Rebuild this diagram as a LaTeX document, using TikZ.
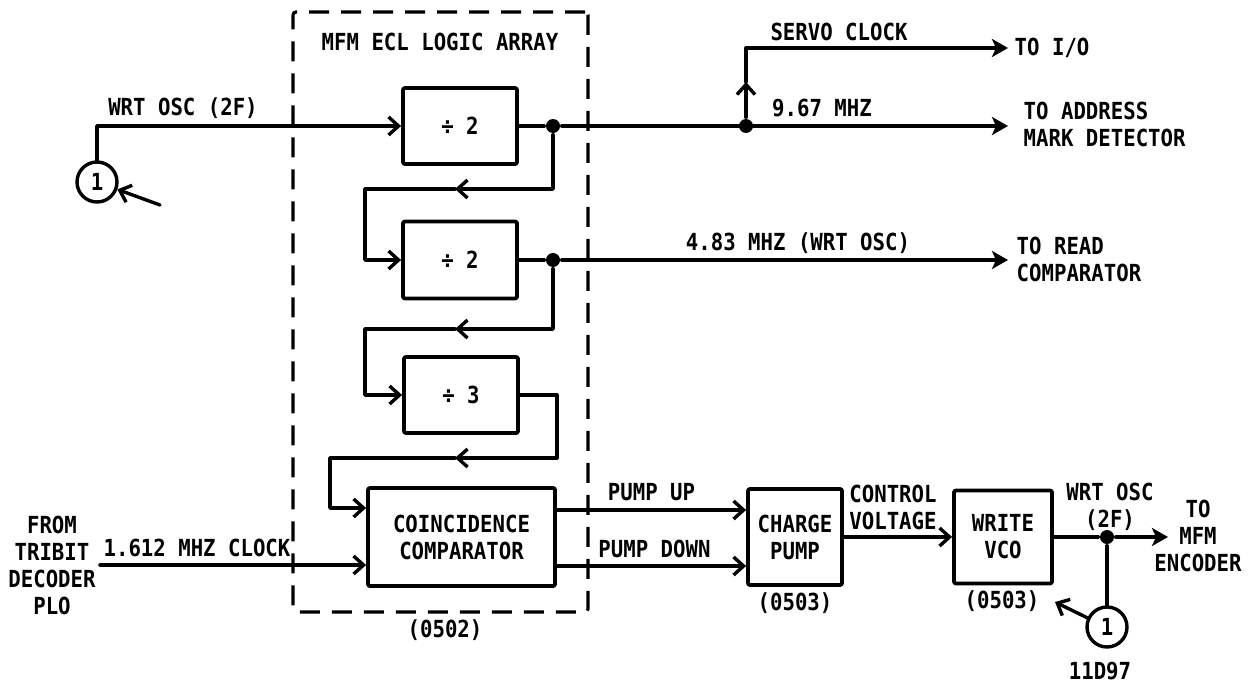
\documentclass[tikz,border=0pt]{standalone}
\usepackage{fontspec}
\setmainfont{DejaVu Sans Mono}[FakeStretch=0.88]
\usetikzlibrary{arrows.meta}

\begin{document}
\begin{tikzpicture}[x=1pt, y=-1pt, line width=3.4pt, line join=round, line cap=round,
	font=\fontsize{23.5}{27}\selectfont\bfseries, >={Straight Barb[length=10pt,width=18pt]},
	blk/.style={draw, line width=3.8pt, rounded corners=2pt, align=center, inner sep=0pt},
	dot/.style={circle, fill, inner sep=0pt, minimum size=14pt},
	ref/.style={circle, draw, inner sep=0pt, minimum size=40pt},
	outarr/.style={-{Stealth[length=16pt,width=18pt,inset=4pt]}},
	lbl/.style={inner sep=0pt, align=center}]
	\useasboundingbox (0,0) rectangle (1252,685);
	
	% logic array
	\node[draw, line cap=butt, dash pattern=on 20pt off 12pt, line width=3.2pt, rounded corners=3pt,
		minimum width=295pt, minimum height=600pt] (ecl) at (440.5,312) {};
	\node[lbl] (ecltitle) at (440,42) {MFM ECL LOGIC ARRAY};
	\node[lbl] (eclno) at (445,630) {(0502)};
	
	\node[blk, minimum width=114pt, minimum height=76pt] (div2a) at (460,126) {÷ 2};
	\node[blk, minimum width=114pt, minimum height=77pt] (div2b) at (460,260) {÷ 2};
	\node[blk, minimum width=114pt, minimum height=76pt] (div3) at (461,395) {÷ 3};
	\node[blk, minimum width=187pt, minimum height=98pt] (coinc) at (461.5,537) {COINCIDENCE\\COMPARATOR};
	\node[blk, minimum width=94pt, minimum height=96pt] (pump) at (795,537) {CHARGE\\PUMP};
	\node[blk, minimum width=98pt, minimum height=93pt] (vco) at (1003,537) {WRITE\\VCO};
	
	\node[ref] (ref1) at (97,182) {1};
	\node[ref] (ref2) at (1107,627) {1};
	
	\node[dot] (j1) at (553,126) {};
	\node[dot] (j2) at (746,126) {};
	\node[dot] (j3) at (553,260) {};
	\node[dot] (j4) at (1107,537) {};
	
	\coordinate (toio) at (1008,48);
	\coordinate (toadr) at (1008,126);
	\coordinate (tordc) at (1008,260);
	\coordinate (toenc) at (1168,537);
	\coordinate (plo) at (100,565);
	\coordinate (ptr1) at (160,205);
	\coordinate (ptr2) at (1055,602);
	\coordinate (srv) at (746,82);
	\coordinate (fb1) at (455,189);
	\coordinate (fb2) at (455,329);
	\coordinate (fb3) at (455,458);
	
	% divider chain
	\draw[->] (ref1) |- (div2a);
	\draw[->] (ptr1) -- (ref1);
	\draw (div2a) -- (j1);
	\draw[outarr] (j1) -- (toadr);
	\draw[->] (j2) -- (srv);
	\draw[outarr] (srv) |- (toio);
	\draw[->] (j1) |- (fb1);
	\draw[->] (fb1) -- ++(-90,0) |- (div2b);
	\draw (div2b) -- (j3);
	\draw[outarr] (j3) -- (tordc);
	\draw[->] (j3) |- (fb2);
	\draw[->] (fb2) -- ++(-90,0) |- (div3);
	\draw[->] (div3.east) -- ++(37,0) |- (fb3);
	\draw[->] (fb3) -- ++(-125,0) |- ([yshift=29pt]coinc.west);
	
	% phase loop
	\draw[->] (plo) -- (plo -| coinc.west);
	\draw[->] ([yshift=27pt]coinc.east) -- ([yshift=27pt]pump.west)
		node[lbl, midway, above=7pt] (uplbl) {PUMP UP};
	\draw[->] ([yshift=-29pt]coinc.east) -- ([yshift=-29pt]pump.west)
		node[lbl, midway, above=6pt, xshift=3pt] (dnlbl) {PUMP DOWN};
	\draw[->] (pump) -- (vco);
	\draw (vco) -- (j4);
	\draw[outarr] (j4) -- (toenc);
	\draw (j4) -- (ref2);
	\draw[->] (ref2.155) -- (ptr2);
	
	% labels
	\node[lbl] (wrtin) at (183,108) {WRT OSC (2F)};
	\node[lbl] (srvlbl) at (839,32) {SERVO CLOCK};
	\node[lbl, anchor=west] (iolbl) at (1013,48) {TO I/O};
	\node[lbl] (f967) at (822,108) {9.67 MHZ};
	\node[lbl, align=left, anchor=west] (adrlbl) at (1022,124) {TO ADDRESS\\MARK DETECTOR};
	\node[lbl] (f483) at (798,243) {4.83 MHZ (WRT OSC)};
	\node[lbl, align=left, anchor=west] (rdclbl) at (1015,259) {TO READ\\COMPARATOR};
	\node[lbl] (pumpno) at (795,603) {(0503)};
	\node[lbl] (vcono) at (1002,601) {(0503)};
	\node[lbl] (ctllbl) at (893,507) {CONTROL\\VOLTAGE};
	\node[lbl] (wrtout) at (1110,507) {WRT OSC\\(2F)};
	\node[lbl] (enclbl) at (1198,536) {TO\\MFM\\ENCODER};
	\node[lbl] (figno) at (1100,671) {11D97};
	\node[lbl] (plolbl) at (52,565) {FROM\\TRIBIT\\DECODER\\PLO};
	\node[lbl] (clklbl) at (197,548) {1.612 MHZ CLOCK};
	
\end{tikzpicture}
\end{document}
